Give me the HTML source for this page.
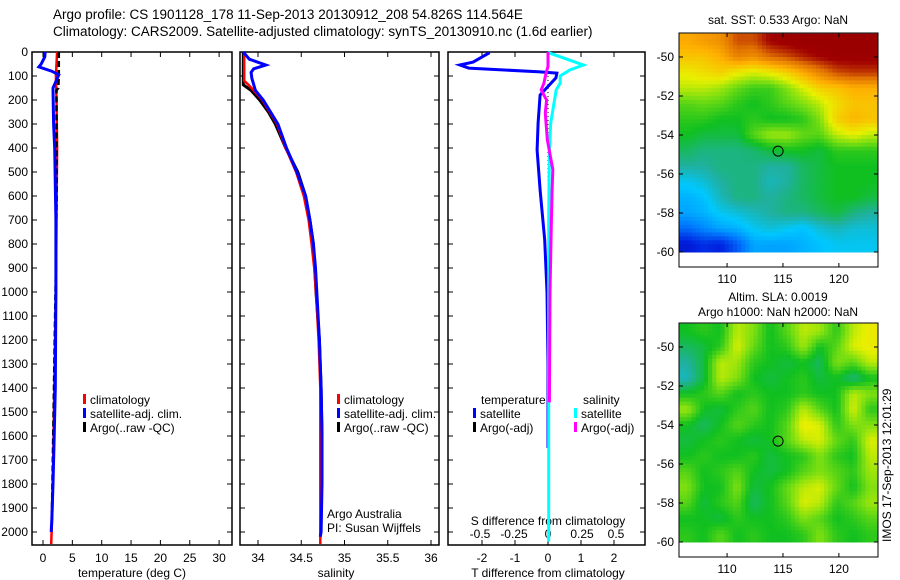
<!DOCTYPE html>
<html><head><meta charset="utf-8"><style>
body{margin:0;background:#fff;width:900px;height:580px;overflow:hidden}
svg{display:block;font-family:"Liberation Sans",sans-serif}
</style></head><body>
<svg id="fig" width="900" height="580" xmlns="http://www.w3.org/2000/svg">
<text x="53" y="19" font-size="13.5">Argo profile: CS 1901128_178 11-Sep-2013 20130912_208 54.826S 114.564E</text>
<text x="53" y="36" font-size="13.5">Climatology: CARS2009. Satellite-adjusted climatology: synTS_20130910.nc (1.6d earlier)</text>
</svg>
<script>
// ---- Profile data ----
const depthTicks=[0,100,200,300,400,500,600,700,800,900,1000,1100,1200,1300,1400,1500,1600,1700,1800,1900,2000];
const tempTicks=[0,5,10,15,20,25,30];
const salTicks=[34,34.5,35,35.5,36];
const tdiffTicks=[-2,-1,0,1,2];
const sdiffTicks=[-0.5,-0.25,0,0.25,0.5];
const sdiffTickLabels=["-0.5","-0.25","0","0.25","0.5"];

const tClimDepth=[0,100,200,400,700,1000,1300,1600,1900,2050];
const tClimVal=[2.4,2.2,2.3,2.4,2.3,2.2,2.0,1.8,1.6,1.4];
const tArgoDepth=[0,100,150,160,300,600,900,1200,1500,1800,1950];
const tArgoVal=[2.7,2.7,2.6,2.3,2.3,2.3,2.2,2.0,1.8,1.6,1.5];
const tSatDepth=[0,20,50,62,80,95,150,300,400,700,1000,1400,1600,1800,1950,2000];
const tSatVal=[0.35,0.3,-0.3,-0.7,1.5,2.7,1.7,1.8,2.0,2.2,2.2,2.1,1.9,1.7,1.5,1.4];

const sClimDepth=[0,120,140,200,300,400,500,600,700,800,900,1000,1200,1400,1600,1800,2050];
const sClimVal=[33.84,33.84,33.9,34.05,34.22,34.32,34.44,34.53,34.585,34.62,34.65,34.67,34.70,34.72,34.72,34.72,34.72];
const sArgoDepth=[0,137,160,200,250,300,400,500,600,700,800,900,1000,1200,1400,1600,1800];
const sArgoVal=[33.83,33.83,33.92,34.02,34.12,34.2,34.32,34.46,34.55,34.6,34.64,34.655,34.67,34.71,34.73,34.74,34.74];
const sSatDepth=[0,30,54,70,85,110,160,200,300,400,500,600,700,800,900,1000,1200,1400,1600,1800,2000,2020];
const sSatVal=[33.83,33.9,34.09,33.95,33.92,33.93,33.97,34.06,34.23,34.33,34.45,34.55,34.6,34.64,34.665,34.68,34.71,34.73,34.74,34.74,34.73,34.72];

const dTSatDepth=[0,5,42,54,67,83,88,108,179,296,408,575,783,1000,1300,1650];
const dTSatVal=[-1.8,-1.8,-2.27,-2.67,-2.4,-0.24,0.27,0.24,-0.24,-0.3,-0.33,-0.24,-0.1,-0.03,0,0];
const dSSatDepth=[0,5,30,54,75,100,130,158,296,408,700,1000,1500,2000,2040];
const dSSatVal=[0,0.015,0.14,0.26,0.16,0.09,0.09,0.06,0.02,0.01,0.005,0.005,0.005,0.005,0.005];
const dSArgoDepth=[0,60,89,130,158,200,254,365,490,575,700,1000,1460];
const dSArgoVal=[0,0,-0.015,-0.03,-0.05,-0.01,-0.02,-0.005,0.035,0.03,0.025,0.015,0.01];

// ---- Map data (rows top->bottom, 12 cols) ----
const sstGrid=[
[.76,.78,.80,.88,.88,.95,.97,.98,.98,.98,.98,.98],
[.72,.72,.75,.82,.80,.85,.88,.92,.95,.97,.97,.97],
[.66,.68,.70,.66,.64,.66,.70,.76,.82,.88,.90,.90],
[.62,.62,.60,.56,.53,.53,.58,.64,.70,.72,.75,.75],
[.55,.56,.55,.52,.50,.52,.55,.58,.62,.68,.72,.72],
[.52,.52,.50,.50,.52,.50,.50,.52,.58,.70,.74,.72],
[.50,.48,.48,.48,.55,.60,.60,.56,.55,.62,.65,.62],
[.46,.44,.44,.44,.45,.48,.50,.50,.48,.52,.52,.52],
[.42,.42,.44,.44,.44,.42,.42,.46,.48,.50,.50,.50],
[.36,.38,.42,.44,.44,.40,.42,.46,.48,.50,.50,.50],
[.32,.34,.40,.44,.44,.42,.44,.46,.48,.50,.50,.48],
[.30,.32,.36,.38,.40,.42,.44,.44,.46,.48,.44,.42],
[.22,.26,.30,.32,.36,.38,.36,.34,.38,.40,.38,.38],
[.10,.14,.12,.20,.30,.30,.30,.32,.34,.36,.36,.36]];
const slaGrid=[
[.50,.52,.50,.62,.58,.50,.55,.62,.60,.52,.62,.66],
[.46,.48,.52,.64,.56,.50,.52,.60,.50,.55,.64,.66],
[.42,.48,.62,.60,.52,.50,.48,.50,.46,.58,.55,.62],
[.40,.48,.62,.58,.50,.48,.50,.52,.48,.50,.44,.50],
[.50,.52,.55,.50,.52,.50,.50,.52,.50,.50,.62,.58],
[.60,.50,.48,.52,.55,.50,.52,.62,.55,.50,.64,.52],
[.50,.46,.50,.55,.52,.50,.55,.66,.64,.52,.58,.58],
[.48,.50,.52,.50,.48,.50,.55,.62,.64,.56,.52,.64],
[.50,.52,.50,.50,.52,.48,.50,.52,.58,.52,.50,.62],
[.55,.50,.52,.55,.50,.48,.50,.55,.58,.55,.52,.60],
[.58,.50,.50,.58,.48,.50,.56,.62,.64,.56,.50,.58],
[.55,.48,.52,.55,.46,.50,.55,.64,.62,.52,.55,.60],
[.50,.50,.48,.52,.50,.50,.52,.58,.55,.50,.52,.55],
[.52,.50,.55,.50,.52,.50,.50,.52,.58,.52,.50,.52]];
const lonTicks=[110,115,120];
const latTicks=[-50,-52,-54,-56,-58,-60];
const argoLon=114.564, argoLat=-54.826;

const NS="http://www.w3.org/2000/svg";
const svg=document.getElementById('fig');
function mk(tag,attrs,parent){const e=document.createElementNS(NS,tag);for(const k in attrs)e.setAttribute(k,attrs[k]);(parent||svg).appendChild(e);return e;}
function txt(x,y,s,size,anchor,parent){const t=mk('text',{x:x,y:y,'font-size':size||12,'text-anchor':anchor||'start'},parent);t.textContent=s;return t;}

const TOP=52,BOT=545,DPX=0.24;
const yD=d=>TOP+d*DPX;

function panel(name,x0,x1){
  const g=mk('g',{});
  
  
  const r=mk('rect',{x:x0,y:TOP,width:x1-x0,height:BOT-TOP,fill:'none',stroke:'#000','stroke-width':1.5},g);
  
  
  depthTicks.forEach(d=>{mk('line',{x1:x0,x2:x0+5,y1:yD(d),y2:yD(d),stroke:'#000'},g);mk('line',{x1:x1,x2:x1-5,y1:yD(d),y2:yD(d),stroke:'#000'},g);});
  return g;
}
function series(g,name,depths,vals,xf,color,w,dash){
  const pts=depths.map((d,i)=>xf(vals[i]).toFixed(1)+','+yD(d).toFixed(1)).join(' ');
  const p=mk('polyline',{points:pts,fill:'none',stroke:color,'stroke-width':w,'stroke-linejoin':'miter'},g);
  if(dash)p.setAttribute('stroke-dasharray',dash);
  
  
}
function xTicks(g,ticks,labels,xf){
  ticks.forEach((t,i)=>{const x=xf(t);mk('line',{x1:x,x2:x,y1:BOT,y2:BOT-5,stroke:'#000'},g);mk('line',{x1:x,x2:x,y1:TOP,y2:TOP+5,stroke:'#000'},g);
    const l=txt(x,562,labels?labels[i]:String(t),12,'middle',g);
    
    });
}
function legendEntry(g,x,y,color,label){
  mk('rect',{x:x,y:y-10,width:3,height:10,fill:color},g);
  const t=txt(x+7,y,label,12,'start',g);
  
  
}

// Panel 1 temperature
const xT=v=>43+v*5.87;
const g1=panel('temperature-panel',32,232);
depthTicks.forEach(d=>{const l=txt(28,yD(d)+4,String(d),12,'end',g1);
  
  });
xTicks(g1,tempTicks,null,xT);
series(g1,'temp-climatology-line',tClimDepth,tClimVal,xT,'#ff0000',2.5);
series(g1,'temp-argo-line',tArgoDepth,tArgoVal,xT,'#000000',2.5,'6 3');
series(g1,'temp-satellite-line',tSatDepth,tSatVal,xT,'#0000ff',3);
const t1=txt(132,577,'temperature (deg C)',12,'middle',g1);


legendEntry(g1,83,404,'#ff0000','climatology');
legendEntry(g1,83,418,'#0000ff','satellite-adj. clim.');
legendEntry(g1,83,432,'#000000','Argo(..raw -QC)');

// Panel 2 salinity
const xS=v=>258+(v-34)*86.5;
const g2=panel('salinity-panel',240,439);
xTicks(g2,salTicks,null,xS);
series(g2,'sal-argo-line',sArgoDepth,sArgoVal,xS,'#000000',3);
series(g2,'sal-climatology-line',sClimDepth,sClimVal,xS,'#ff0000',2.5);
series(g2,'sal-satellite-line',sSatDepth,sSatVal,xS,'#0000ff',3);
const t2=txt(336,577,'salinity',12,'middle',g2);


legendEntry(g2,337,404,'#ff0000','climatology');
legendEntry(g2,337,418,'#0000ff','satellite-adj. clim.');
legendEntry(g2,337,432,'#000000','Argo(..raw -QC)');
const a1=txt(327,518,'Argo Australia',12,'start',g2);


const a2=txt(327,532,'PI: Susan Wijffels',12,'start',g2);



// Panel 3 differences
const xDT=v=>548+v*33;
const xDS=v=>548+v*136;
const g3=panel('difference-panel',448,645);
xTicks(g3,tdiffTicks,null,xDT);
mk('line',{x1:548,x2:548,y1:TOP,y2:BOT,stroke:'#000','stroke-dasharray':'1 3'},g3);
sdiffTicks.forEach((t,i)=>{const l=txt(xDS(t),538,sdiffTickLabels[i],12,'middle',g3);
  
  });
const sl=txt(548,525,'S difference from climatology',12,'middle',g3);


series(g3,'tdiff-satellite-line',dTSatDepth,dTSatVal,xDT,'#0000ff',3);
series(g3,'sdiff-satellite-line',dSSatDepth,dSSatVal,xDS,'#00ffff',3);
series(g3,'sdiff-argo-line',dSArgoDepth,dSArgoVal,xDS,'#ff00ff',3);
const t3=txt(548,577,'T difference from climatology',12,'middle',g3);


const lt=txt(481,404,'temperature',12,'start',g3);


const ls=txt(583,404,'salinity',12,'start',g3);


legendEntry(g3,473,418,'#0000ff','satellite');
legendEntry(g3,473,432,'#000000','Argo(-adj)');
legendEntry(g3,574,418,'#00ffff','satellite');
legendEntry(g3,574,432,'#ff00ff','Argo(-adj)');

// ---- Maps ----
const stops=[[0,[0,0,143]],[0.12,[0,32,224]],[0.25,[0,128,255]],[0.35,[0,200,255]],[0.42,[32,176,160]],[0.5,[16,192,32]],[0.58,[128,224,16]],[0.65,[232,240,0]],[0.75,[255,176,0]],[0.85,[224,112,0]],[0.95,[160,0,0]],[1,[150,0,0]]];
function cmap(v){for(let i=1;i<stops.length;i++){if(v<=stops[i][0]){const a=stops[i-1],b=stops[i],f=(v-a[0])/(b[0]-a[0]);return 'rgb('+a[1].map((c,k)=>Math.round(c+(b[1][k]-c)*f)).join(',')+')';}}return 'rgb(150,0,0)';}
function sample(grid,fr,fc){
  const R=grid.length-1,C=grid[0].length-1;
  fr=Math.max(0,Math.min(R,fr));fc=Math.max(0,Math.min(C,fc));
  const r0=Math.floor(fr),c0=Math.floor(fc),r1=Math.min(R,r0+1),c1=Math.min(C,c0+1),a=fr-r0,b=fc-c0;
  return grid[r0][c0]*(1-a)*(1-b)+grid[r0][c1]*(1-a)*b+grid[r1][c0]*a*(1-b)+grid[r1][c1]*a*b;
}
const LON0=105.7,LON1=123.5,LAT0=-48.8,LAT1=-60,SUB=4;
function mapPanel(name,grid,top,latA50,latA60){
  const g=mk('g',{});
  
  
  const X0=679,X1=878;
  const lonX=lo=>X0+(lo-LON0)/(LON1-LON0)*(X1-X0);
  const latY=la=>latA50+(la+50)/(-10)*(latA60-latA50);
  const rows=grid.length*SUB,cols=grid[0].length*SUB;
  const cw=(X1-X0)/cols, y0=latY(LAT0), y1=latY(LAT1), ch=(y1-y0)/rows;
  for(let r=0;r<rows;r++)for(let c=0;c<cols;c++){
    const v=sample(grid,(r+0.5)/SUB-0.5,(c+0.5)/SUB-0.5);
    const cell=mk('rect',{x:(X0+c*cw).toFixed(2),y:(y0+r*ch).toFixed(2),width:(cw+0.5).toFixed(2),height:(ch+0.5).toFixed(2),fill:cmap(v)},g);
    
    
  }
  const boxTop=top, boxBot=top+234;
  const fr=mk('rect',{x:X0,y:boxTop,width:X1-X0,height:boxBot-boxTop,fill:'none',stroke:'#000','stroke-width':1},g);
  
  
  latTicks.forEach(la=>{const y=latY(la);mk('line',{x1:X0,x2:X0+4,y1:y,y2:y,stroke:'#000'},g);mk('line',{x1:X1,x2:X1-4,y1:y,y2:y,stroke:'#000'},g);
    const l=txt(674,y+4,String(la),12,'end',g);
    
    });
  lonTicks.forEach(lo=>{const x=lonX(lo);mk('line',{x1:x,x2:x,y1:boxBot,y2:boxBot-4,stroke:'#000'},g);mk('line',{x1:x,x2:x,y1:boxTop,y2:boxTop+4,stroke:'#000'},g);
    const l=txt(x,boxBot+16,String(lo),12,'middle',g);
    
    });
  const m=mk('circle',{cx:lonX(argoLon),cy:latY(argoLat),r:5,fill:'none',stroke:'#000','stroke-width':1},g);
  
  
  return g;
}
const mg1=mapPanel('sst-map',sstGrid,33,57,252);
const mt1=txt(778,24,'sat. SST: 0.533 Argo: NaN',12,'middle',mg1);


const mg2=mapPanel('sla-map',slaGrid,323,347,542);
const mt2=txt(778,301,'Altim. SLA: 0.0019',12,'middle',mg2);


const mt3=txt(778,316,'Argo h1000: NaN h2000: NaN',12,'middle',mg2);


const stamp=txt(0,0,'IMOS 17-Sep-2013 12:01:29',12,'start');
stamp.setAttribute('transform','translate(891,542) rotate(-90)');


</script>
</body></html>
